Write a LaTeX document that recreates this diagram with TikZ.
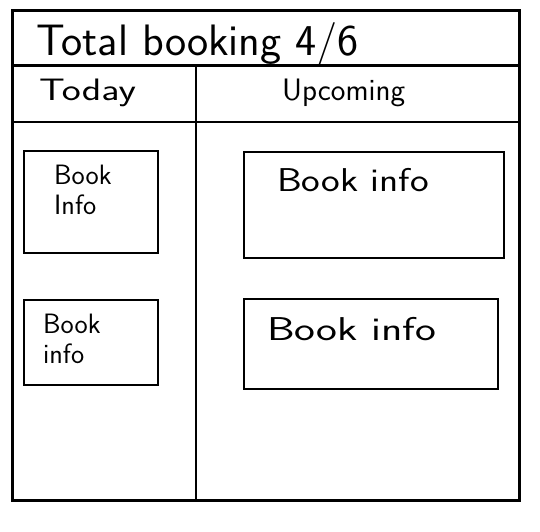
\documentclass[tikz,border=0pt]{standalone}
\usepackage{graphicx}
\usepackage{tikz}
\usetikzlibrary{positioning}

\newcommand{\handwide}[2]{\scalebox{#1}[1]{#2}}

\tikzset{
    frame/.style={line width=3pt},
    rowline/.style={line width=2pt},
    bookbox/.style={draw, rectangle, line width=1.5pt, inner sep=0pt},
    titletext/.style={font=\sffamily\fontsize{44}{48}\selectfont, inner sep=0pt, anchor=base west},
    headtext/.style={font=\sffamily\fontsize{31}{34}\selectfont, inner sep=0pt, anchor=base west},
    infotext/.style={font=\sffamily\fontsize{28}{30}\selectfont, inner sep=0pt, align=left, anchor=north west},
    wideinfo/.style={font=\sffamily\fontsize{33}{36}\selectfont, inner sep=0pt, anchor=north west},
}

\begin{document}
\begin{tikzpicture}[x=1pt, y=-1pt]
    \useasboundingbox (0,0) rectangle (540,531);

    % page frame and header rows
    \draw[frame] (12,10) rectangle (519,500);
    \draw[frame] (12,65) -- (519,65);
    \draw[rowline] (12,122) -- (519,122);
    \draw[rowline] (196,65) -- (196,500);

    \node[titletext] (title) at (36,55) {\handwide{1.02}{Total booking 4/6}};
    \node[headtext] (today) at (39,100) {\handwide{1.3}{Today}};
    \node[headtext] (upcoming) at (282,100) {Upcoming};

    \node[bookbox, minimum width=134pt, minimum height=102pt] (today1) at (91,202) {};
    \node[bookbox, minimum width=134pt, minimum height=85pt] (today2) at (91,342.5) {};
    \node[bookbox, minimum width=260pt, minimum height=106pt] (upcoming1) at (374,205) {};
    \node[bookbox, minimum width=254pt, minimum height=90pt] (upcoming2) at (371,344) {};

    \node[infotext] (info1) at (54,165) {Book\\Info};
    \node[infotext] (info2) at (43,314) {Book\\info};
    \node[wideinfo] (info3) at (277,168) {\handwide{1.2}{Book info}};
    \node[wideinfo] (info4) at (267,317) {\handwide{1.34}{Book info}};
\end{tikzpicture}
\end{document}
